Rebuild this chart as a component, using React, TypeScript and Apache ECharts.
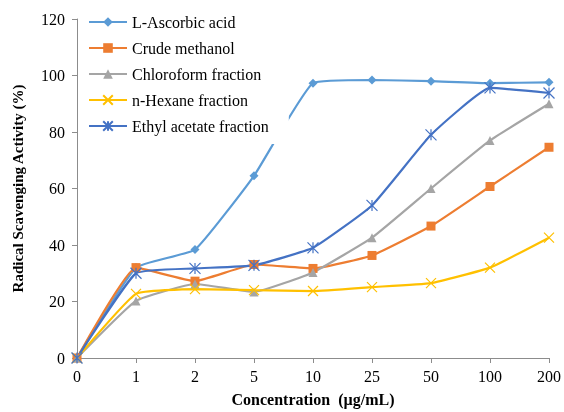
import React, { useEffect, useRef } from "react";
import * as echarts from "echarts";

const categories = ["0", "1", "2", "5", "10", "25", "50", "100", "200"];
const ascorbic = [0, 32, 38.4, 64.5, 97.3, 98.4, 98.0, 97.3, 97.6];
const crudeMethanol = [0, 32, 27.2, 33.1, 31.7, 36.3, 46.7, 60.7, 74.6];
const chloroform = [0, 20.2, 26.2, 23.4, 30.3, 42.6, 60.0, 77.0, 90.0];
const hexane = [0, 22.7, 24.4, 24.0, 23.7, 25.1, 26.5, 32.0, 42.6];
const ethylAcetate = [0, 30.0, 31.7, 32.8, 39.0, 54.0, 79.0, 95.6, 93.8];

const FONT = "Liberation Serif";

export default function App() {
  const ref = useRef<HTMLDivElement>(null);
  useEffect(() => {
    if (!ref.current) return;
    const chart = echarts.init(ref.current, undefined, { renderer: "svg" });
    const mk = (name: string, data: number[], color: string, symbol: string, size: number, stroke = false) => ({
      name,
      type: "line",
      data,
      smooth: 0.12,
      symbol,
      symbolSize: size,
      z: name === "L-Ascorbic acid" ? 1 : 2,
      lineStyle: { color, width: 2.2 },
      itemStyle: stroke
        ? { color: "rgba(0,0,0,0)", borderColor: color, borderWidth: 1.2 }
        : { color, borderColor: color, borderWidth: 0 },
    });
    chart.setOption({
      animation: false,
      textStyle: { fontFamily: FONT },
      grid: { left: 77, right: 14, top: 19, bottom: 49, containLabel: false },
      legend: {
        orient: "vertical",
        left: 82,
        top: 10,
        padding: [4, 20, 10, 6],
        itemGap: 10,
        itemWidth: 38,
        itemHeight: 12,
        backgroundColor: "#ffffff",
        textStyle: { fontFamily: FONT, fontSize: 16, color: "#000" },
        z: 10,
      },
      xAxis: {
        type: "category",
        data: categories,
        boundaryGap: false,
        name: "Concentration  (µg/mL)",
        nameLocation: "middle",
        nameGap: 33,
        nameTextStyle: { fontFamily: FONT, fontSize: 16, fontWeight: "bold", color: "#000" },
        axisLine: { lineStyle: { color: "#8c8c8c", width: 1 } },
        axisTick: { show: true, alignWithLabel: true, length: 5, lineStyle: { color: "#8c8c8c" } },
        axisLabel: { fontFamily: FONT, fontSize: 16, color: "#000", margin: 10 },
        splitLine: { show: false },
      },
      yAxis: {
        type: "value",
        min: 0,
        max: 120,
        interval: 20,
        name: "Radical Scavenging Activity (%)",
        nameLocation: "middle",
        nameGap: 52,
        nameTextStyle: { fontFamily: FONT, fontSize: 15, fontWeight: "bold", color: "#000" },
        axisLine: { show: true, lineStyle: { color: "#8c8c8c", width: 1 } },
        axisTick: { show: true, length: 5, lineStyle: { color: "#8c8c8c" } },
        axisLabel: { fontFamily: FONT, fontSize: 16, color: "#000", margin: 12 },
        splitLine: { show: false },
      },
      series: [
        mk("L-Ascorbic acid", ascorbic, "#5B9BD5", "diamond", 9),
        mk("Crude methanol", crudeMethanol, "#ED7D31", "rect", 9),
        mk("Chloroform fraction", chloroform, "#A5A5A5", "triangle", 9),
        mk("n-Hexane fraction", hexane, "#FFC000", "path://M0,0L10,10M10,0L0,10", 10, true),
        mk("Ethyl acetate fraction", ethylAcetate, "#4472C4", "path://M0,0L10,10M10,0L0,10M5,0L5,10", 11, true),
      ],
    });
    return () => chart.dispose();
  }, []);
  return <div ref={ref} style={{ position: "fixed", left: 0, top: 0, width: 564, height: 412 }} />;
}
